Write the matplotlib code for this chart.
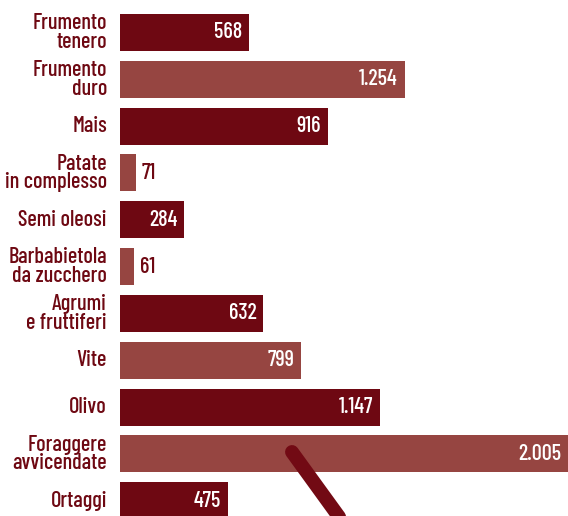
import matplotlib.pyplot as plt
from matplotlib.lines import Line2D

# superfici per coltura (migliaia di ettari)
categorie = ["Frumento\ntenero", "Frumento\nduro", "Mais", "Patate\nin complesso",
             "Semi oleosi", "Barbabietola\nda zucchero", "Agrumi\ne fruttiferi",
             "Vite", "Olivo", "Foraggere\navvicendate", "Ortaggi"]
valori = [568, 1254, 916, 71, 284, 61, 632, 799, 1147, 2005, 475]
etichette = ["568", "1.254", "916", "71", "284", "61", "632", "799", "1.147", "2.005", "475"]

scuro = "#6e0812"
chiaro = "#964541"
kw = dict(family=["Barlow Condensed", "DejaVu Sans"], fontweight=500)

W, H = 568, 516
fig = plt.figure(figsize=(W / 100, H / 100), dpi=100)
ax = fig.add_axes([120 / W, 0, 1 - 120 / W, 1])

pitch = 46.83
ax.set_ylim((H - 32.5) / pitch, -32.5 / pitch)
ax.set_xlim(0, (W - 120) / 0.227)
ax.axis("off")

y = list(range(len(valori)))
colori = [scuro if i % 2 == 0 else chiaro for i in y]
ax.barh(y, valori, height=37 / pitch, color=colori, edgecolor="none")

xmax = ax.get_xlim()[1]
for i, (v, lab) in enumerate(zip(valori, etichette)):
    if v < 150:
        ax.annotate(lab, (v, i), xytext=(6, 0), textcoords="offset pixels",
                    ha="left", va="center", color=scuro, fontsize=16, **kw)
    else:
        ax.annotate(lab, (min(v, xmax), i), xytext=(-7, 0), textcoords="offset pixels",
                    ha="right", va="center", color="white", fontsize=16, **kw)
    ax.annotate(categorie[i], (0, i), xytext=(-13, 0), textcoords="offset pixels",
                ha="right", va="center", color=scuro, fontsize=16,
                linespacing=0.92, annotation_clip=False, **kw)

# tratto diagonale decorativo
fig.add_artist(Line2D([292 / W, 350 / W], [1 - 452 / H, 1 - 532 / H],
                      transform=fig.transFigure, color="#720a14",
                      linewidth=10, solid_capstyle="round"))

fig.savefig("out.png", dpi=100)
